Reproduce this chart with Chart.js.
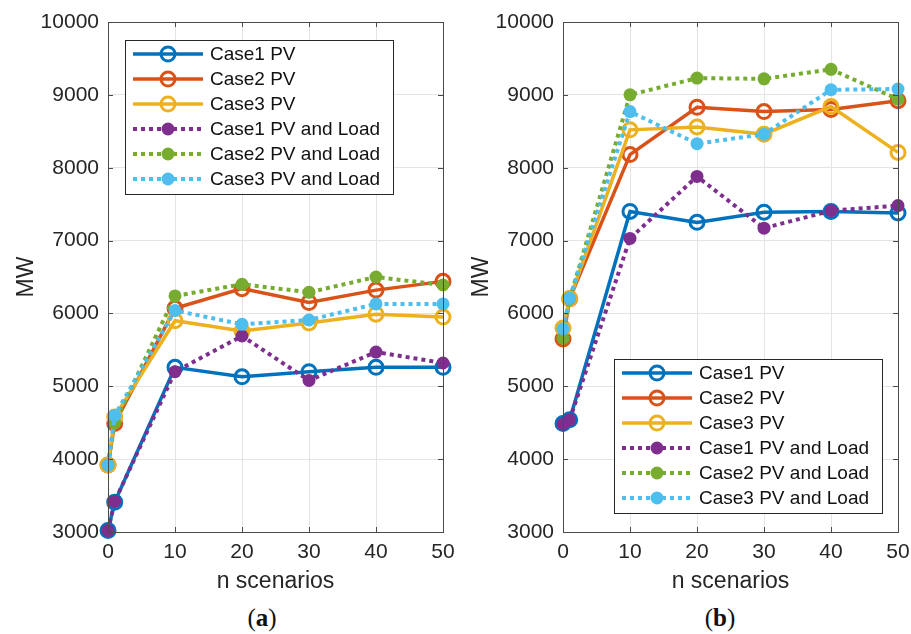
<!DOCTYPE html>
<html>
<head>
<meta charset="utf-8">
<script src="https://cdn.jsdelivr.net/npm/chart.js@4"></script>
<style>
  body { margin: 0; background: #fff; width: 911px; height: 634px; overflow: hidden; position: relative; }
  canvas { position: absolute; top: 0; }
  #chartA { left: 0; }
  #chartB { left: 455px; }
  .cap { position: absolute; top: 604px; width: 100px; text-align: center;
         font: 25px "Liberation Serif", "DejaVu Serif", serif; color: #111; }
</style>
</head>
<body>
<canvas id="chartA" width="455" height="600"></canvas>
<canvas id="chartB" width="456" height="600"></canvas>
<div class="cap" style="left:212px">(<b>a</b>)</div>
<div class="cap" style="left:670px">(<b>b</b>)</div>
<script>
// n scenarios
var scenarios = [0, 1, 10, 20, 30, 40, 50];
var names = ['Case1 PV', 'Case2 PV', 'Case3 PV', 'Case1 PV and Load', 'Case2 PV and Load', 'Case3 PV and Load'];
var yTicks = [3000, 4000, 5000, 6000, 7000, 8000, 9000, 10000];

// panel (a)
var case1PV_a   = [3020, 3410, 5260, 5130, 5200, 5260, 5260];
var case2PV_a   = [3920, 4490, 6070, 6340, 6150, 6320, 6440];
var case3PV_a   = [3920, 4580, 5900, 5760, 5870, 5990, 5950];
var case1Load_a = [3020, 3420, 5200, 5690, 5080, 5470, 5320];
var case2Load_a = [3920, 4500, 6240, 6400, 6290, 6500, 6390];
var case3Load_a = [3920, 4600, 6040, 5850, 5910, 6130, 6130];

// panel (b)
var case1PV_b   = [4490, 4540, 7400, 7250, 7390, 7400, 7380];
var case2PV_b   = [5650, 6200, 8180, 8830, 8770, 8800, 8920];
var case3PV_b   = [5800, 6200, 8520, 8560, 8460, 8840, 8210];
var case1Load_b = [4480, 4540, 7030, 7880, 7170, 7410, 7480];
var case2Load_b = [5660, 6200, 9000, 9230, 9220, 9350, 8940];
var case3Load_b = [5790, 6210, 8770, 8330, 8460, 9070, 9080];

var colors = ['#0072BD', '#D95319', '#EDB120', '#7E2F8E', '#77AC30', '#4DBEEE'];
var FONT = '"Liberation Sans", Arial, sans-serif';

// matlab style box with inward ticks
var boxTicks = {
    id: 'boxTicks',
    afterDraw(chart) {
        var ctx = chart.ctx, a = chart.chartArea;
        var x = chart.scales.x, y = chart.scales.y;
        ctx.save();
        ctx.strokeStyle = '#4a4a4a';
        ctx.lineWidth = 1;
        ctx.strokeRect(a.left + 0.5, a.top + 0.5, a.right - a.left, a.bottom - a.top);
        ctx.beginPath();
        x.ticks.forEach(t => {
            var px = Math.round(x.getPixelForValue(t.value)) + 0.5;
            ctx.moveTo(px, a.bottom); ctx.lineTo(px, a.bottom - 5);
            ctx.moveTo(px, a.top); ctx.lineTo(px, a.top + 5);
        });
        y.ticks.forEach(t => {
            var py = Math.round(y.getPixelForValue(t.value)) + 0.5;
            ctx.moveTo(a.left, py); ctx.lineTo(a.left + 5, py);
            ctx.moveTo(a.right, py); ctx.lineTo(a.right - 5, py);
        });
        ctx.stroke();
        ctx.restore();
    }
};

// legend in a box, drawn inside the axes
var boxLegend = {
    id: 'boxLegend',
    afterDraw(chart, args, opts) {
        var ctx = chart.ctx, a = chart.chartArea;
        var w = 268, h = 154, rowH = 25;
        var x = opts.corner === 'topLeft' ? a.left + 17 : a.right - 16 - w;
        var y = opts.corner === 'topLeft' ? a.top + 18 : a.bottom - 19 - h;
        ctx.save();
        ctx.fillStyle = '#fff';
        ctx.fillRect(x, y, w, h);
        ctx.strokeStyle = '#262626';
        ctx.lineWidth = 1;
        ctx.strokeRect(x + 0.5, y + 0.5, w, h);
        ctx.font = '19px ' + FONT;
        ctx.textBaseline = 'middle';
        chart.data.datasets.forEach((ds, i) => {
            var cy = y + 14 + i * rowH;
            ctx.strokeStyle = ds.borderColor;
            ctx.lineWidth = ds.borderWidth;
            ctx.setLineDash(ds.borderDash);
            ctx.beginPath();
            ctx.moveTo(x + 8, cy); ctx.lineTo(x + 78, cy);
            ctx.stroke();
            ctx.setLineDash([]);
            ctx.beginPath();
            ctx.arc(x + 43, cy, ds.pointRadius, 0, Math.PI * 2);
            if (ds.filled) {
                ctx.fillStyle = ds.borderColor;
                ctx.fill();
            } else {
                ctx.lineWidth = ds.pointBorderWidth;
                ctx.stroke();
            }
            ctx.fillStyle = '#111';
            ctx.fillText(ds.label, x + 85, cy + 1);
        });
        ctx.restore();
    }
};

function makeChart(id, series, corner, rightPad) {
    var datasets = series.map((vals, i) => {
        var filled = i >= 3;
        return {
            label: names[i],
            data: scenarios.map((s, k) => ({ x: s, y: vals[k] })),
            borderColor: colors[i],
            backgroundColor: colors[i],
            borderWidth: filled ? 4 : 3.5,
            borderDash: filled ? [4, 4] : [],
            pointRadius: filled ? 6.5 : 7,
            pointBorderWidth: filled ? 0 : 3,
            pointBackgroundColor: filled ? colors[i] : 'rgba(0,0,0,0)',
            pointBorderColor: colors[i],
            filled: filled,
            clip: false,
            order: -i
        };
    });
    return new Chart(document.getElementById(id).getContext('2d'), {
        type: 'line',
        data: { datasets: datasets },
        plugins: [boxTicks, boxLegend],
        options: {
            responsive: false,
            animation: false,
            devicePixelRatio: 1,
            layout: { padding: { top: 22, right: rightPad, left: 0, bottom: 0 } },
            plugins: {
                legend: { display: false },
                tooltip: { enabled: false },
                boxLegend: { corner: corner }
            },
            scales: {
                x: {
                    type: 'linear', min: 0, max: 50,
                    ticks: { stepSize: 10, color: '#262626', padding: 8, font: { family: FONT, size: 21 },
                             callback: v => String(v) },
                    grid: { color: '#e4e4e4', drawTicks: false },
                    border: { display: false },
                    title: { display: true, text: 'n scenarios', color: '#262626',
                             padding: { top: 0, bottom: 5 }, font: { family: FONT, size: 23 } },
                    afterFit: s => { s.height = 68; s.paddingLeft = 0; s.paddingRight = 0; }
                },
                y: {
                    min: 3000, max: 10000,
                    afterBuildTicks: s => { s.ticks = yTicks.map(v => ({ value: v })); },
                    ticks: { color: '#262626', padding: 9, font: { family: FONT, size: 21 },
                             callback: v => String(v) },
                    grid: { color: '#e4e4e4', drawTicks: false },
                    border: { display: false },
                    title: { display: true, text: 'MW', color: '#262626',
                             padding: { top: 13, bottom: 0 }, font: { family: FONT, size: 23 } },
                    afterFit: s => { s.width = 108; s.paddingTop = 0; s.paddingBottom = 0; }
                }
            }
        }
    });
}

var chartA = makeChart('chartA', [case1PV_a, case2PV_a, case3PV_a, case1Load_a, case2Load_a, case3Load_a], 'topLeft', 12);
var chartB = makeChart('chartB', [case1PV_b, case2PV_b, case3PV_b, case1Load_b, case2Load_b, case3Load_b], 'bottomRight', 13);
</script>
</body>
</html>
